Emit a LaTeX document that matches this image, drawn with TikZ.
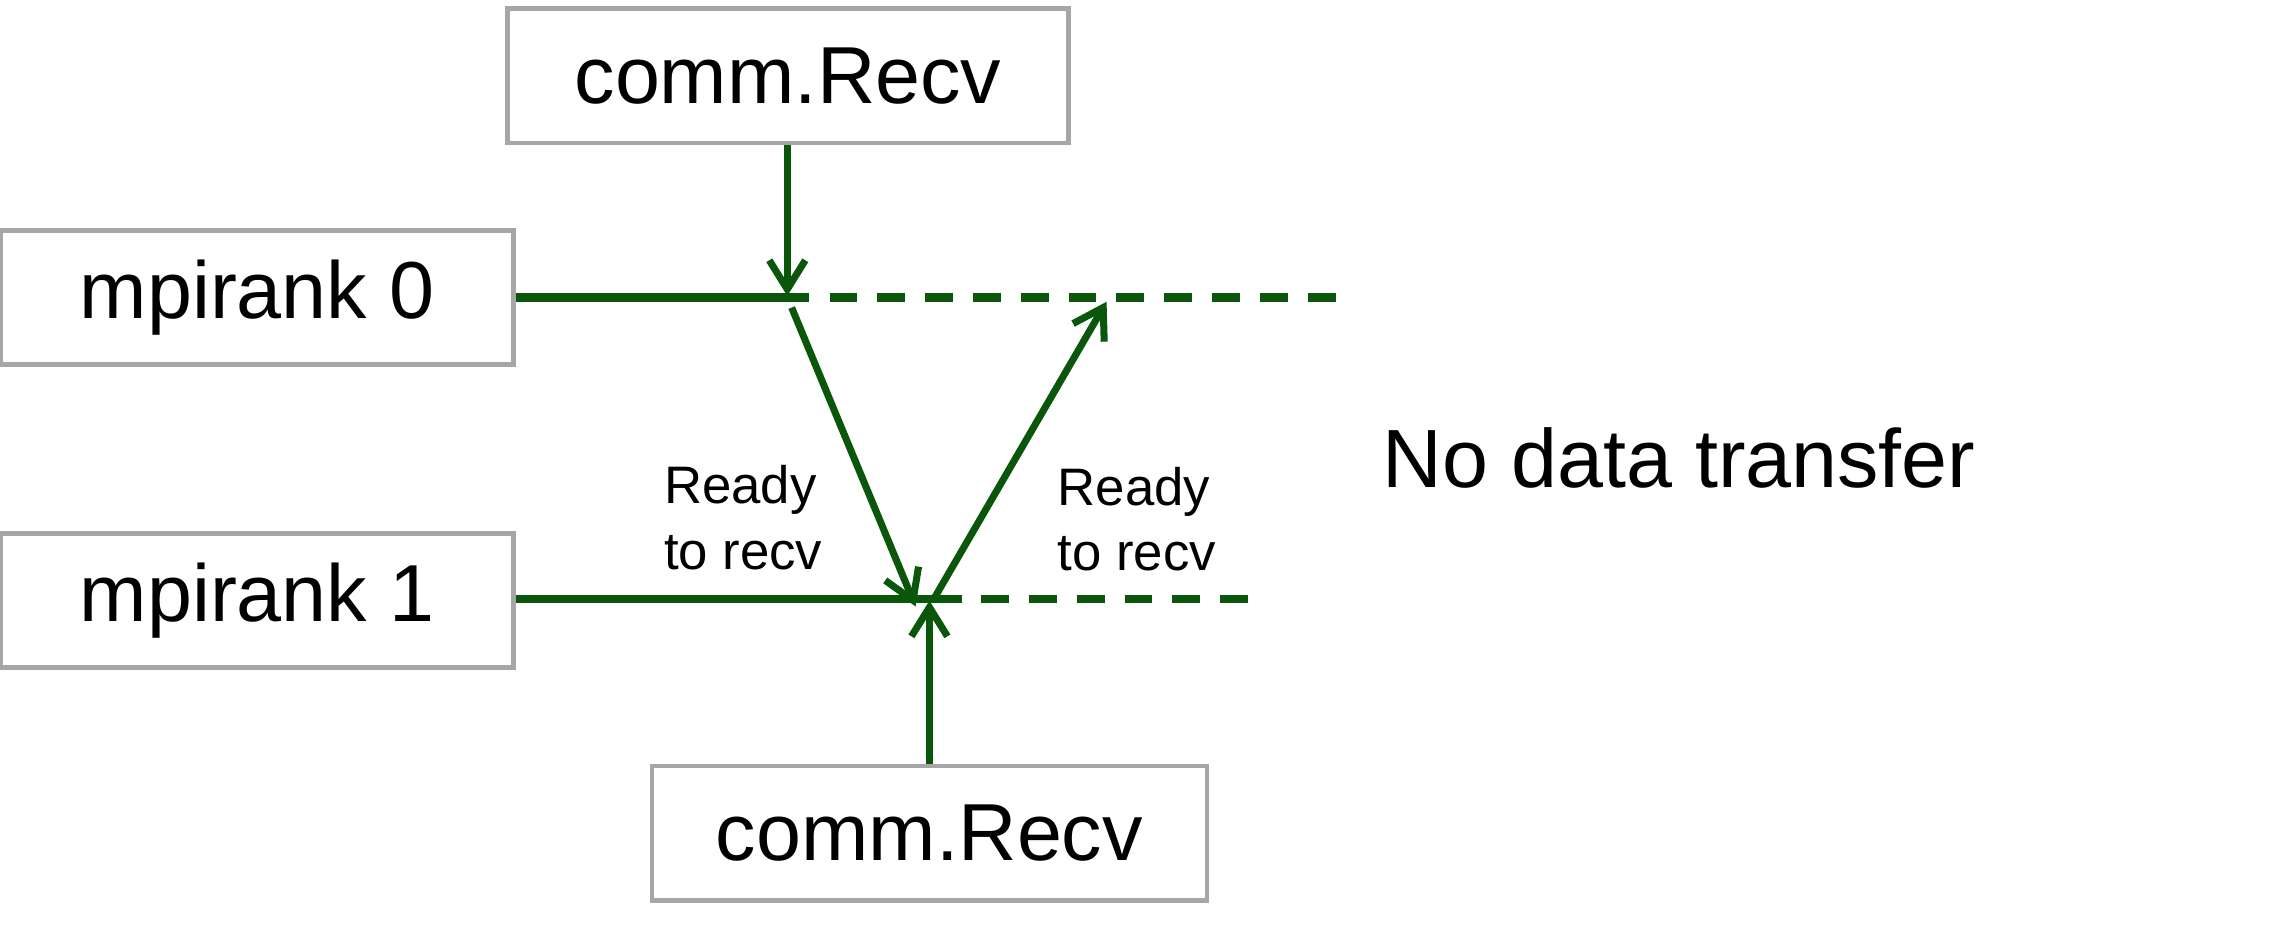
\documentclass[tikz,border=0pt]{standalone}
\usepackage{fontspec}
\setmainfont{Liberation Sans}
\definecolor{BoxGray}{HTML}{A6A6A6}
\definecolor{MsgGreen}{HTML}{0A560A}
\usetikzlibrary{arrows.meta,positioning}

\begin{document}
\begin{tikzpicture}[x=0.014579cm,y=-0.014579cm,
        callbox/.style={draw=BoxGray,line width=1.3pt,fill=white,
                    minimum height=1.34cm,inner sep=0pt,
                    font=\fontsize{23}{27}\selectfont},
        timeline/.style={MsgGreen,line width=2.4pt},
        idleline/.style={MsgGreen,line width=2.4pt,dash pattern=on 7.9pt off 5.7pt},
        msg/.style={MsgGreen,line width=2pt,
                    -{Straight Barb[length=2.9mm,width=3.6mm,line width=2pt]}},
        note/.style={font=\fontsize{15}{18.6}\selectfont,align=left,inner sep=0pt}]

        \useasboundingbox (0,0) rectangle (1568,638.6);

        % processes and calls
        \node[callbox,minimum width=5.61cm] (recvA) at (540.5,52) {comm.Recv};
        \node[callbox,minimum width=5.12cm] (rank0) at (176.5,204) {mpirank 0};
        \node[callbox,minimum width=5.12cm] (rank1) at (176.5,412) {mpirank 1};
        \node[callbox,minimum width=5.55cm] (recvB) at (637.5,571.5) {comm.Recv};

        % time lines
        \coordinate (b0) at (555,204);
        \coordinate (d0) at (569,204);
        \coordinate (e0) at (918,204);
        \coordinate (b1) at (660,411);
        \coordinate (d1) at (673,411);
        \coordinate (e1) at (858,411);
        \draw[timeline] (rank0.east |- b0) -- (b0);
        \draw[idleline] (d0) -- (e0);
        \draw[timeline] (rank1.east |- b1) -- (b1);
        \draw[idleline] (d1) -- (e1);

        % messages
        \coordinate (t0) at (540,203);
        \coordinate (t1) at (637.5,412);
        \coordinate (s0) at (543,211);
        \coordinate (r1) at (628,416);
        \coordinate (s1) at (641,410);
        \coordinate (r0) at (759,207);
        \draw[msg] (recvA.south -| t0) -- (t0);
        \draw[msg] (recvB.north) -- (t1);
        \draw[msg] (s0) -- (r1);
        \draw[msg] (s1) -- (r0);

        \node[note,anchor=west] (readyA) at (455,355) {Ready\\to recv};
        \node[note,anchor=west] (readyB) at (725,356) {Ready\\to recv};
        \node[font=\fontsize{23.5}{28}\selectfont,inner sep=0pt,anchor=west]
              (nodata) at (948,314) {No data transfer};
      \end{tikzpicture}
\end{document}
